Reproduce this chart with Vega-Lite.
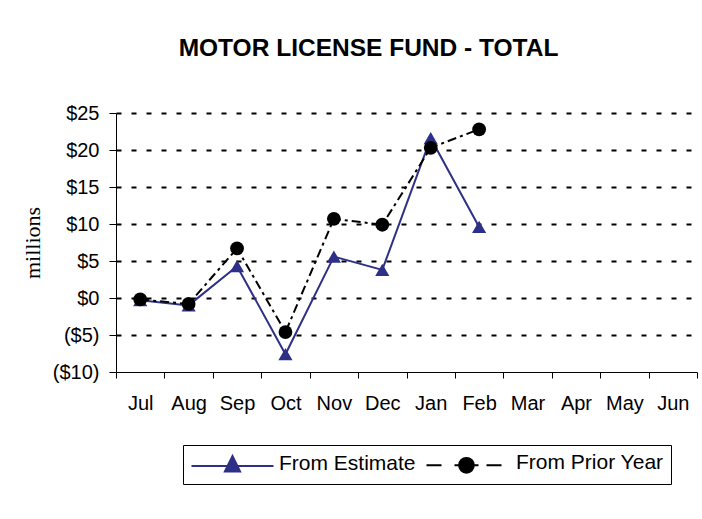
{
  "$schema": "https://vega.github.io/schema/vega-lite/v6.json",
  "width": 581,
  "height": 259,
  "autosize": {"type": "none"},
  "padding": {"left": 116, "top": 113, "right": 5, "bottom": 147},
  "background": "white",
  "config": {"view": {"stroke": null}, "font": "Liberation Sans"},
  "title": {
    "text": "MOTOR LICENSE FUND - TOTAL",
    "fontSize": 24.5,
    "fontWeight": "bold",
    "font": "Liberation Sans",
    "color": "black",
    "anchor": "middle",
    "dx": -38,
    "baseline": "bottom",
    "offset": 18
  },
  "data": {
    "values": [
      {"month": "Jul", "series": "From Estimate", "value": -0.3},
      {"month": "Aug", "series": "From Estimate", "value": -1.0},
      {"month": "Sep", "series": "From Estimate", "value": 4.3},
      {"month": "Oct", "series": "From Estimate", "value": -7.6},
      {"month": "Nov", "series": "From Estimate", "value": 5.6},
      {"month": "Dec", "series": "From Estimate", "value": 3.8},
      {"month": "Jan", "series": "From Estimate", "value": 21.6},
      {"month": "Feb", "series": "From Estimate", "value": 9.6},
      {"month": "Jul", "series": "From Prior Year", "value": -0.2},
      {"month": "Aug", "series": "From Prior Year", "value": -0.8},
      {"month": "Sep", "series": "From Prior Year", "value": 6.7},
      {"month": "Oct", "series": "From Prior Year", "value": -4.6},
      {"month": "Nov", "series": "From Prior Year", "value": 10.7},
      {"month": "Dec", "series": "From Prior Year", "value": 9.9},
      {"month": "Jan", "series": "From Prior Year", "value": 20.3},
      {"month": "Feb", "series": "From Prior Year", "value": 22.8}
    ]
  },
  "encoding": {
    "x": {
      "field": "month",
      "type": "ordinal",
      "sort": null,
      "bandPosition": 0.5,
      "scale": {
        "type": "band",
        "domain": ["Jul", "Aug", "Sep", "Oct", "Nov", "Dec", "Jan", "Feb", "Mar", "Apr", "May", "Jun"],
        "paddingInner": 0,
        "paddingOuter": 0
      },
      "axis": {
        "title": null,
        "labelAngle": 0,
        "labelFontSize": 20,
        "labelFont": "Liberation Sans",
        "labelColor": "black",
        "domainColor": "black",
        "domainWidth": 1,
        "tickColor": "black",
        "tickSize": 6,
        "tickBand": "extent",
        "labelPadding": 15,
        "grid": false
      }
    },
    "y": {
      "field": "value",
      "type": "quantitative",
      "scale": {"domain": [-10, 25], "nice": false, "zero": false},
      "axis": {
        "title": "millions",
        "titleFont": "Liberation Serif",
        "titleFontSize": 22,
        "titleFontWeight": "normal",
        "titleColor": "black",
        "titlePadding": 8,
        "values": [-10, -5, 0, 5, 10, 15, 20, 25],
        "labelExpr": "datum.value < 0 ? '($' + abs(datum.value) + ')' : '$' + datum.value + '\u00a0'",
        "labelFontSize": 20,
        "labelFont": "Liberation Sans",
        "labelColor": "black",
        "labelPadding": 10,
        "tickSize": 7,
        "tickColor": "black",
        "domainColor": "black",
        "grid": true,
        "gridColor": "black",
        "gridDash": [5, 10],
        "gridWidth": 2,
        "gridOpacity": {"condition": {"test": "datum.value === -10", "value": 0}, "value": 1}
      }
    },
    "color": {
      "field": "series",
      "type": "nominal",
      "scale": {"domain": ["From Estimate", "From Prior Year"], "range": ["#2e3087", "#000000"]},
      "legend": {
        "title": null,
        "orient": "none",
        "direction": "horizontal",
        "legendX": 67,
        "legendY": 332,
        "strokeColor": "black",
        "fillColor": "white",
        "padding": 7,
        "labelFontSize": 21,
        "labelFont": "Liberation Sans",
        "labelColor": "black",
        "symbolSize": 256,
        "symbolStrokeWidth": 2,
        "labelOffset": 68,
        "columnPadding": 6,
        "encode": {
          "symbols": {
            "update": {
              "shape": {"signal": "datum.value === 'From Estimate' ? 'M-1.125,0.25H9.125M3.05,0.95L4,-1L4.95,0.95Z' : 'M-1.375,0.3H0.5M2.125,0.3H2.75M2.7,0.3A0.92,0.92 0 1,0 4.54,0.3A0.92,0.92 0 1,0 2.7,0.3M4.5,0.3H5.125M6.125,0.3H8'"},
              "fill": {"signal": "datum.value === 'From Estimate' ? '#2e3087' : '#000000'"},
              "stroke": {"signal": "datum.value === 'From Estimate' ? '#2e3087' : '#000000'"},
              "strokeDash": {"value": []},
              "opacity": {"value": 1}
            }
          }
        }
      }
    }
  },
  "layer": [
    {
      "transform": [{"filter": "datum.series === 'From Estimate'"}],
      "mark": {"type": "line", "strokeWidth": 2}
    },
    {
      "transform": [{"filter": "datum.series === 'From Prior Year'"}],
      "mark": {"type": "line", "strokeWidth": 2, "strokeDash": [9, 4, 3, 4]}
    },
    {
      "transform": [{"filter": "datum.series === 'From Estimate'"}],
      "mark": {"type": "point", "shape": "triangle-up", "filled": true, "size": 200, "opacity": 1}
    },
    {
      "transform": [{"filter": "datum.series === 'From Prior Year'"}],
      "mark": {"type": "point", "shape": "circle", "filled": true, "size": 190, "opacity": 1}
    }
  ]
}
